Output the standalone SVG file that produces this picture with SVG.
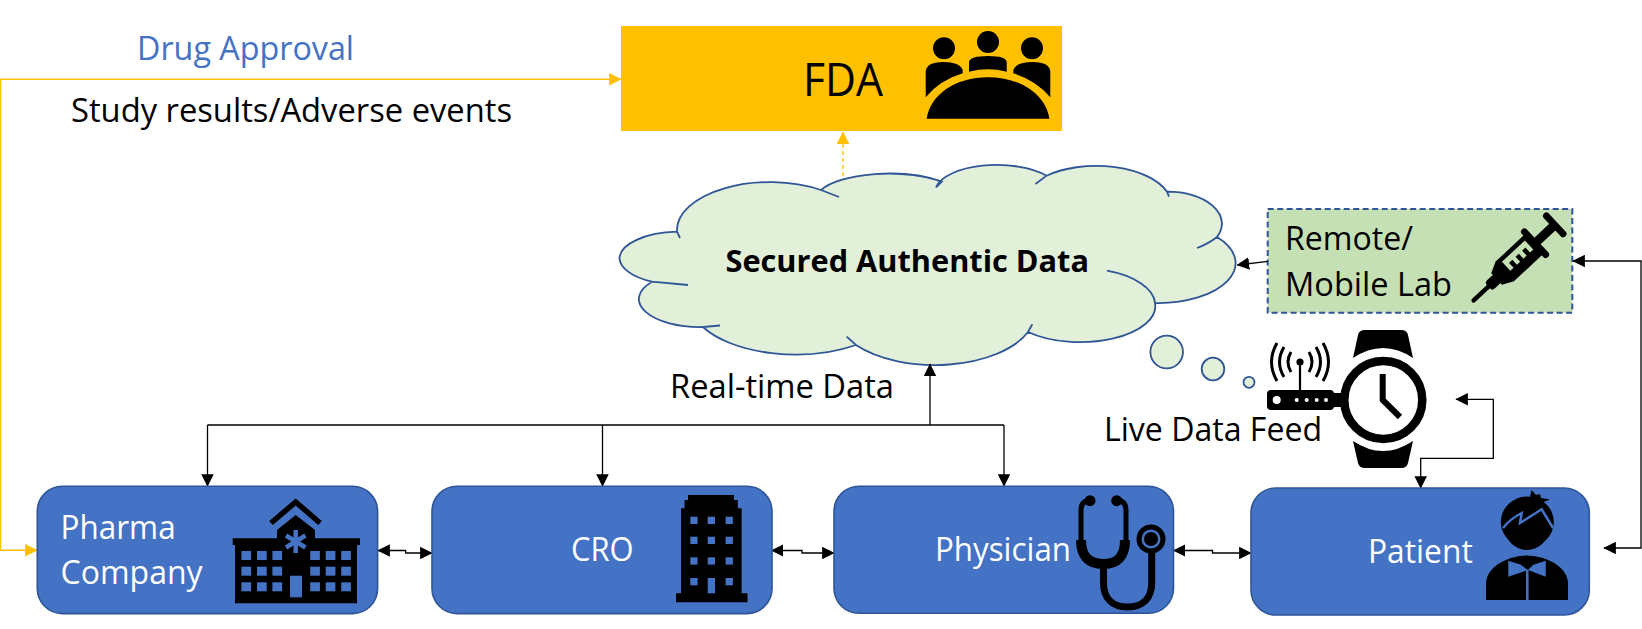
<svg xmlns="http://www.w3.org/2000/svg" width="1642" height="629" viewBox="0 0 1642 629">
<style>
text{font-family:"Open Sans","Liberation Sans",sans-serif;fill:#000;font-size:32px}
.w{fill:#fff}
.box{fill:#4472C4;stroke:#2F5597;stroke-width:1.6}
.c{fill:none;stroke:#000;stroke-width:1.3}
.yl{fill:none;stroke:#FFC000;stroke-width:1.4}
.cl{fill:none;stroke:#2F5597;stroke-width:1.8}
.bb{fill:#E2EFD9;stroke:#2F5597;stroke-width:1.8}
.b{fill:#4472C4}
</style>
<defs>
<marker id="a" viewBox="0 0 10 10" refX="9.500" refY="5" markerWidth="12.500" markerHeight="12.500" markerUnits="userSpaceOnUse" orient="auto-start-reverse"><path d="M0 0L10 5L0 10Z" fill="#000"/></marker>
<marker id="y" viewBox="0 0 10 10" refX="9.500" refY="5" markerWidth="12.500" markerHeight="12.500" markerUnits="userSpaceOnUse" orient="auto-start-reverse"><path d="M0 0L10 5L0 10Z" fill="#FFC000"/></marker>
</defs>
<rect width="1642" height="629" fill="#fff"/>
<g id="fda">
<rect x="621" y="26" width="441" height="105" fill="#FFC000"/>
<text x="803" y="96" style="font-size:45px" textLength="80" lengthAdjust="spacingAndGlyphs">FDA</text>
<circle cx="944" cy="48.300" r="11"/><circle cx="988" cy="42" r="11"/><circle cx="1032" cy="48.300" r="11"/>
<path d="M925.700 97.300V72Q926 62 943 62Q960 62 962.700 70V73.300Q940 80 925.700 97.300Z"/>
<path d="M969 71.700V62Q970 56 988 56Q1006 56 1006.700 62V71.700Q988 67 969 71.700Z"/>
<path d="M1050.300 97.300V72Q1050 62 1033 62Q1016 62 1013.300 70V73.300Q1036 80 1050.300 97.300Z"/>
<path d="M926.700 118.700C930 95 955 77.300 988 77.300S1046 95 1049.300 118.700Z"/>
</g>
<g id="cloud">
<path fill="#E2EFD9" d="M677 231.700A93 48 0 0 1 821 190A73 26 0 0 1 941.800 181.700A62 27 0 0 1 1046.600 175.700A75 39 0 0 1 1167 191.700A54 32 0 0 1 1217 237A77 40 0 0 1 1155 303A75 36 0 0 1 1028 332A100 52 0 0 1 856 345A105 52 0 0 1 703 327A61 28 0 0 1 652 281.700A60.500 27 0 0 1 619.500 258A60.500 27 0 0 1 677 231.700Z"/>
<path class="cl" d="M680 238L677 231.700A93 48 0 0 1 821 190L839 197M821 190A73 26 0 0 1 941.800 181.700L936 187.300A62 27 0 0 1 1046.600 175.700M1035.500 184Q1046 176 1046.600 175.700A75 39 0 0 1 1167 191.700L1169 196.700M1167 191.700A54 32 0 0 1 1217 237Q1208 244 1197 248M1217 237A77 40 0 0 1 1155 303M1107 270.700A75 36 0 0 1 1155 303A75 36 0 0 1 1028 332M1032.300 324.300L1028 332A100 52 0 0 1 856 345L846.700 336.700M856 345A105 52 0 0 1 703 327L720 325.500M703 327A61 28 0 0 1 652 281.700L688 285M652 281.700A60.500 27 0 0 1 619.500 258A60.500 27 0 0 1 677 231.700"/>
<text x="725.500" y="272" style="font-weight:700;font-size:31px" textLength="363.500" lengthAdjust="spacingAndGlyphs">Secured Authentic Data</text>
<circle class="bb" cx="1166.700" cy="352" r="16.300"/>
<circle class="bb" cx="1213" cy="369" r="11.300"/>
<circle class="bb" cx="1249" cy="382.300" r="5.500"/>
</g>
<g id="lab">
<rect x="1267.700" y="209" width="304.600" height="103.700" fill="#C5E0B4" stroke="#2F5597" stroke-width="2" stroke-dasharray="6 3.500"/>
<text x="1285" y="250" textLength="128" lengthAdjust="spacingAndGlyphs">Remote/</text>
<text x="1285" y="295.700" textLength="167" lengthAdjust="spacingAndGlyphs">Mobile Lab</text>
<g transform="translate(1472 302) rotate(-43) scale(1.120)">
<rect x="0" y="-2" width="24" height="4" rx="2"/>
<rect x="20" y="-5" width="12" height="10" rx="3"/>
<path d="M30 -7L40 -12H76V12H40L30 7Z"/>
<path d="M44 -8H72V3H68V-3H64V3H60V-3H56V3H52V-3H48V3H44Z" fill="#C5E0B4"/>
<rect x="74" y="-17" width="6" height="34" rx="3"/>
<rect x="78" y="-4" width="22" height="8"/>
<rect x="98" y="-14" width="6" height="28" rx="3"/>
</g>
</g>
<g id="watch">
<path d="M1353 358L1358 335Q1359 330 1365 330H1401Q1407 330 1408 335L1413 358Q1383 338 1353 358Z"/>
<path d="M1353 441L1358 463Q1359 468 1365 468H1401Q1407 468 1408 463L1413 441Q1383 461 1353 441Z"/>
<circle cx="1383.300" cy="400" r="39" fill="#fff" stroke="#000" stroke-width="8.500"/>
<path d="M1382.700 374V400L1400 417" fill="none" stroke="#000" stroke-width="6"/>
<rect x="1267" y="390" width="67" height="20" rx="4"/>
<path d="M1332 393H1345V407H1332Z"/>
<circle cx="1276.700" cy="400" r="4" fill="#fff"/>
<g fill="#fff"><circle cx="1296.700" cy="400" r="2"/><circle cx="1306.700" cy="400" r="2"/><circle cx="1316.700" cy="400" r="2"/><circle cx="1326" cy="400" r="2"/></g>
<path d="M1300 391V362" stroke="#000" stroke-width="2.200"/>
<circle cx="1300" cy="362" r="3.600"/>
<path d="M1291 352Q1285 362 1291 372M1309 352Q1315 362 1309 372M1284 347Q1275 362 1284 377M1316 347Q1325 362 1316 377M1277 343Q1266 362 1277 381M1323 343Q1334 362 1323 381" fill="none" stroke="#000" stroke-width="3"/>
<text x="1104" y="440.700" textLength="218" lengthAdjust="spacingAndGlyphs">Live Data Feed</text>
</g>
<g id="connectors">
<path class="yl" d="M0.500 79.300H621" marker-end="url(#y)"/>
<path class="yl" d="M0.500 79.300V550.300H37" marker-end="url(#y)"/>
<path class="yl" d="M843 176V132" stroke-dasharray="4 3" marker-end="url(#y)"/>
<path class="c" d="M207.500 425H1004"/>
<path class="c" d="M930 425V364" marker-end="url(#a)"/>
<path class="c" d="M207.500 425V486" marker-end="url(#a)"/>
<path class="c" d="M602.500 425V486" marker-end="url(#a)"/>
<path class="c" d="M1004 425V486" marker-end="url(#a)"/>
<path class="c" d="M378 550.500H405.700V553H432" marker-start="url(#a)" marker-end="url(#a)"/>
<path class="c" d="M771.500 550.500H802V553H834" marker-start="url(#a)" marker-end="url(#a)"/>
<path class="c" d="M1173.500 550.500H1212.500V553H1251" marker-start="url(#a)" marker-end="url(#a)"/>
<path class="c" d="M1456 399.300H1493.300V458.300H1420.700V488" marker-start="url(#a)" marker-end="url(#a)"/>
<path class="c" d="M1268 261.300L1237.300 265" marker-end="url(#a)"/>
<path class="c" d="M1573 261H1641V548H1604" marker-start="url(#a)" marker-end="url(#a)"/>
</g>
<g id="pharma">
<rect class="box" x="37.300" y="486.300" width="340.300" height="127.300" rx="25"/>
<text class="w" x="60.600" y="539.300" textLength="115" lengthAdjust="spacingAndGlyphs">Pharma</text>
<text class="w" x="60.600" y="584" textLength="142" lengthAdjust="spacingAndGlyphs">Company</text>
<path d="M232.700 538.300H277V530L295.700 515L315 530V538.300H360V545H357V603.300H235V545H232.700Z"/>
<path d="M271 523L295.700 502L320 523" fill="none" stroke="#000" stroke-width="5.500"/>
<path d="M295.700 530V553M286 535.500L305.400 547.500M305.400 535.500L286 547.500" stroke="#4472C4" stroke-width="4.500"/>
<g class="b">
<rect x="241.400" y="551" width="9.700" height="9"/><rect x="257" y="551" width="9.700" height="9"/><rect x="272.400" y="551" width="9.700" height="9"/><rect x="310.200" y="551" width="9.700" height="9"/><rect x="325.700" y="551" width="9.700" height="9"/><rect x="341.200" y="551" width="9.700" height="9"/>
<rect x="241.400" y="566.700" width="9.700" height="9"/><rect x="257" y="566.700" width="9.700" height="9"/><rect x="272.400" y="566.700" width="9.700" height="9"/><rect x="310.200" y="566.700" width="9.700" height="9"/><rect x="325.700" y="566.700" width="9.700" height="9"/><rect x="341.200" y="566.700" width="9.700" height="9"/>
<rect x="241.400" y="582.300" width="9.700" height="9"/><rect x="257" y="582.300" width="9.700" height="9"/><rect x="272.400" y="582.300" width="9.700" height="9"/><rect x="310.200" y="582.300" width="9.700" height="9"/><rect x="325.700" y="582.300" width="9.700" height="9"/><rect x="341.200" y="582.300" width="9.700" height="9"/>
<rect x="290" y="575.700" width="12" height="21.600"/>
</g>
</g>
<g id="cro">
<rect class="box" x="432" y="486.300" width="340" height="127.300" rx="25"/>
<text class="w" x="571" y="561" textLength="62.500" lengthAdjust="spacingAndGlyphs">CRO</text>
<path d="M681 593.300V508.300H684.500V500H688V495H734V500H737.800V508.300H741.600V593.300H747.500V602.300H676V593.300Z"/>
<g class="b">
<rect x="690.300" y="516.700" width="7.300" height="7.300"/><rect x="707.700" y="516.700" width="7.300" height="7.300"/><rect x="725.600" y="516.700" width="7.300" height="7.300"/>
<rect x="690.300" y="536.700" width="7.300" height="7.300"/><rect x="707.700" y="536.700" width="7.300" height="7.300"/><rect x="725.600" y="536.700" width="7.300" height="7.300"/>
<rect x="690.300" y="557.300" width="7.300" height="7.300"/><rect x="707.700" y="557.300" width="7.300" height="7.300"/><rect x="725.600" y="557.300" width="7.300" height="7.300"/>
<rect x="690.300" y="578" width="7.300" height="7.300"/><rect x="707.700" y="578" width="7.300" height="15.300"/><rect x="725.600" y="578" width="7.300" height="7.300"/>
</g>
</g>
<g id="physician">
<rect class="box" x="834" y="486.300" width="339.500" height="127" rx="25"/>
<text class="w" x="935" y="561" textLength="136" lengthAdjust="spacingAndGlyphs">Physician</text>
<g fill="none" stroke="#000">
<path d="M1090 500Q1081 501 1081 510V540M1117 500Q1126 501 1126 510V540" stroke-width="5"/>
<path d="M1081 540Q1081 564 1103.500 564Q1125 564 1125 540" stroke-width="10"/>
<path d="M1103.500 565V583C1103.500 598 1112 607 1127.500 607C1143 607 1151.700 598 1151.700 583V550" stroke-width="7"/>
</g>
<circle cx="1090" cy="500.700" r="5.500"/><circle cx="1116.700" cy="500.700" r="5.500"/>
<circle cx="1151" cy="539" r="14.500"/><circle cx="1151" cy="539" r="9.500" class="b"/><circle cx="1151" cy="539" r="7"/>
</g>
<g id="patient">
<rect class="box" x="1251" y="488" width="338.300" height="127" rx="25"/>
<text class="w" x="1368" y="563" textLength="104.700" lengthAdjust="spacingAndGlyphs">Patient</text>
<ellipse cx="1527.300" cy="522" rx="26.500" ry="25.500"/>
<circle cx="1527" cy="528" r="22"/>
<path d="M1530 497L1531.500 490L1536 495L1540 494L1541 498L1550 499.500L1541 503Z"/>
<path d="M1503 528Q1510 519 1521.700 513L1520 523L1541.700 509.300L1553 528" fill="none" stroke="#4472C4" stroke-width="2.500"/>
<path d="M1486 600V582Q1488 566 1511 558Q1527 553 1543 558Q1566 566 1568 582V600Z"/>
<path d="M1508.300 560.700L1527.300 566.700L1545.700 560.700V576.700L1528 570L1508.300 576.700Z" class="b"/>
<path d="M1521 565H1533L1528 570Z"/>
<path d="M1527.300 570V600" stroke="#4472C4" stroke-width="2.500"/>
</g>
<text x="137" y="59.700" style="fill:#4472C4" textLength="217" lengthAdjust="spacingAndGlyphs">Drug Approval</text>
<text x="71" y="121.500" textLength="441" lengthAdjust="spacingAndGlyphs">Study results/Adverse events</text>
<text x="670" y="398" textLength="224" lengthAdjust="spacingAndGlyphs">Real-time Data</text>
</svg>
